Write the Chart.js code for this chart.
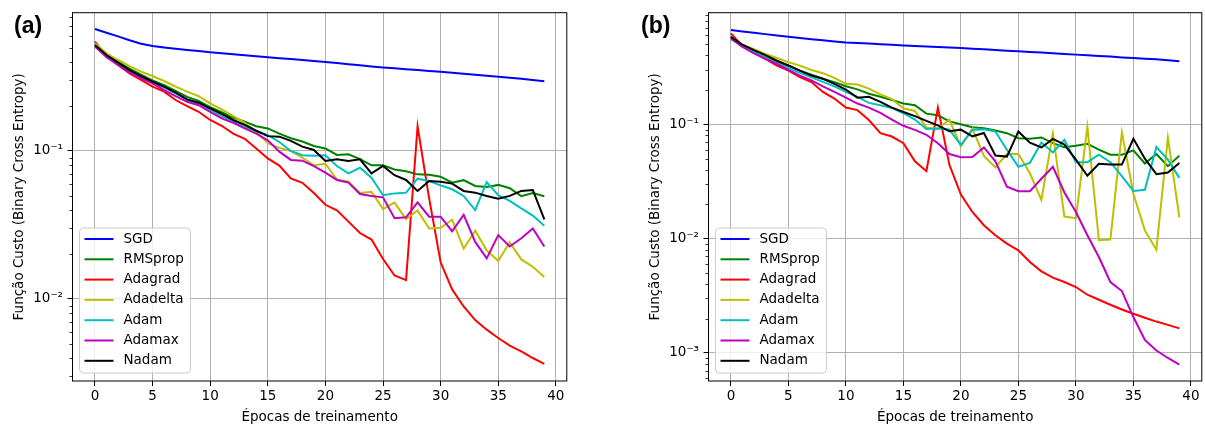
<!DOCTYPE html>
<html>
<head>
<meta charset="utf-8">
<script src="https://cdn.jsdelivr.net/npm/chart.js@4.4.1/dist/chart.umd.min.js"></script>
<style>
  html, body { margin: 0; padding: 0; background: #fff; }
  body { width: 1205px; height: 427px; position: relative; overflow: hidden; }
  canvas { position: absolute; top: 0; }
  #chart-a { left: 0; }
  #chart-b { left: 636px; }
</style>
</head>
<body>
<canvas id="chart-a" width="600" height="427"></canvas>
<canvas id="chart-b" width="569" height="427"></canvas>
<script>
const epochs = [0, 1, 2, 3, 4, 5, 6, 7, 8, 9, 10, 11, 12, 13, 14, 15, 16, 17, 18, 19,
  20, 21, 22, 23, 24, 25, 26, 27, 28, 29, 30, 31, 32, 33, 34, 35, 36, 37, 38, 39];
const xTicks = [0, 5, 10, 15, 20, 25, 30, 35, 40];

const optimizers = ['SGD', 'RMSprop', 'Adagrad', 'Adadelta', 'Adam', 'Adamax', 'Nadam'];
const lineColors = ['#0000ff', '#008000', '#ff0000', '#bfbf00', '#00bfbf', '#bf00bf', '#000000'];

// (a) loss per epoch
const sgdA = [0.667, 0.63, 0.595, 0.56, 0.53, 0.512, 0.50, 0.49, 0.482, 0.474, 0.465, 0.458, 0.451, 0.444, 0.437, 0.43, 0.424, 0.418, 0.412, 0.406,
  0.40, 0.393, 0.386, 0.380, 0.373, 0.367, 0.362, 0.357, 0.352, 0.347, 0.343, 0.338, 0.333, 0.328, 0.323, 0.318, 0.313, 0.308, 0.302, 0.296];
const rmspropA = [0.52, 0.445, 0.40, 0.36, 0.328, 0.30, 0.278, 0.255, 0.232, 0.218, 0.198, 0.183, 0.168, 0.158, 0.147, 0.142, 0.131, 0.122, 0.116, 0.108,
  0.104, 0.094, 0.095, 0.088, 0.080, 0.080, 0.075, 0.073, 0.0695, 0.069, 0.067, 0.061, 0.0635, 0.058, 0.057, 0.059, 0.056, 0.0495, 0.052, 0.0495];
const adagradA = [0.548, 0.438, 0.381, 0.335, 0.302, 0.272, 0.252, 0.221, 0.201, 0.184, 0.162, 0.148, 0.131, 0.121, 0.104, 0.089, 0.0796, 0.0653, 0.061, 0.052,
  0.0433, 0.0397, 0.0333, 0.0279, 0.0252, 0.0186, 0.0144, 0.0134, 0.147, 0.048, 0.0177, 0.0116, 0.0089, 0.0072, 0.0062, 0.00545, 0.00484, 0.00443, 0.00399, 0.00364];
const adadeltaA = [0.534, 0.457, 0.412, 0.375, 0.344, 0.321, 0.297, 0.272, 0.252, 0.235, 0.210, 0.191, 0.172, 0.155, 0.135, 0.113, 0.105, 0.100, 0.090, 0.080,
  0.082, 0.064, 0.0622, 0.052, 0.053, 0.0405, 0.0448, 0.0347, 0.0396, 0.0299, 0.0303, 0.0343, 0.0219, 0.0289, 0.0213, 0.0181, 0.0241, 0.0185, 0.0165, 0.0141];
const adamA = [0.507, 0.44, 0.39, 0.35, 0.318, 0.29, 0.268, 0.245, 0.222, 0.208, 0.19, 0.172, 0.158, 0.145, 0.137, 0.128, 0.115, 0.100, 0.0935, 0.093,
  0.0935, 0.0792, 0.0706, 0.077, 0.066, 0.0502, 0.0517, 0.0523, 0.065, 0.0627, 0.0586, 0.0551, 0.0497, 0.0399, 0.0617, 0.0502, 0.046, 0.041, 0.0366, 0.0313];
const adamaxA = [0.51, 0.43, 0.381, 0.34, 0.31, 0.286, 0.258, 0.235, 0.215, 0.204, 0.184, 0.166, 0.155, 0.142, 0.131, 0.118, 0.099, 0.087, 0.086, 0.079,
  0.0714, 0.0637, 0.0611, 0.0512, 0.0496, 0.0486, 0.0351, 0.0356, 0.045, 0.036, 0.036, 0.0287, 0.037, 0.0243, 0.0188, 0.027, 0.0226, 0.0257, 0.0299, 0.0226];
const nadamA = [0.52, 0.445, 0.395, 0.352, 0.321, 0.294, 0.272, 0.248, 0.223, 0.212, 0.194, 0.178, 0.162, 0.150, 0.137, 0.126, 0.125, 0.117, 0.107, 0.1016,
  0.0855, 0.0878, 0.0855, 0.0878, 0.0706, 0.0792, 0.0686, 0.0637, 0.0537, 0.0627, 0.062, 0.0602, 0.0537, 0.0523, 0.0497, 0.0476, 0.0497, 0.0537, 0.0545, 0.0345];

// (b) loss per epoch
const sgdB = [0.668, 0.65, 0.632, 0.615, 0.598, 0.582, 0.568, 0.555, 0.543, 0.531, 0.52, 0.514, 0.508, 0.502, 0.496, 0.49, 0.485, 0.48, 0.475, 0.47,
  0.465, 0.459, 0.453, 0.447, 0.441, 0.435, 0.429, 0.424, 0.418, 0.413, 0.407, 0.401, 0.396, 0.391, 0.385, 0.38, 0.375, 0.37, 0.363, 0.356];
const rmspropB = [0.574, 0.484, 0.434, 0.391, 0.356, 0.326, 0.295, 0.271, 0.25, 0.234, 0.215, 0.202, 0.185, 0.174, 0.163, 0.152, 0.147, 0.124, 0.12, 0.106,
  0.1, 0.0942, 0.0923, 0.0881, 0.0836, 0.0756, 0.0746, 0.0767, 0.0685, 0.0629, 0.0649, 0.0676, 0.06, 0.0542, 0.0542, 0.0591, 0.0454, 0.055, 0.043, 0.0532];
const adagradB = [0.625, 0.486, 0.426, 0.373, 0.326, 0.295, 0.259, 0.234, 0.192, 0.168, 0.140, 0.133, 0.109, 0.0836, 0.0782, 0.0684, 0.0475, 0.0389, 0.140, 0.0442,
  0.0243, 0.0171, 0.0131, 0.0107, 0.00904, 0.0079, 0.00625, 0.00517, 0.00455, 0.00417, 0.00377, 0.00323, 0.00292, 0.00264, 0.0024, 0.0022, 0.00203, 0.00188, 0.00176, 0.00164];
const adadeltaB = [0.58, 0.496, 0.455, 0.412, 0.38, 0.349, 0.326, 0.299, 0.28, 0.255, 0.226, 0.223, 0.205, 0.183, 0.166, 0.138, 0.131, 0.0935, 0.0916, 0.11,
  0.0641, 0.0916, 0.0528, 0.042, 0.055, 0.055, 0.0373, 0.0218, 0.0832, 0.0156, 0.0151, 0.0948, 0.0097, 0.0098, 0.085, 0.0247, 0.0118, 0.008, 0.0764, 0.0153];
const adamB = [0.556, 0.48, 0.43, 0.385, 0.345, 0.31, 0.282, 0.257, 0.235, 0.215, 0.192, 0.174, 0.154, 0.147, 0.139, 0.125, 0.11, 0.091, 0.092, 0.09,
  0.0662, 0.0893, 0.0905, 0.0864, 0.06, 0.0425, 0.046, 0.0694, 0.0568, 0.0732, 0.0466, 0.0466, 0.0542, 0.0466, 0.0352, 0.0261, 0.0267, 0.0633, 0.0491, 0.034];
const adamaxB = [0.566, 0.476, 0.417, 0.373, 0.337, 0.299, 0.267, 0.242, 0.215, 0.192, 0.171, 0.152, 0.140, 0.126, 0.110, 0.097, 0.0894, 0.081, 0.0684, 0.055,
  0.0515, 0.0518, 0.0628, 0.0475, 0.0285, 0.026, 0.026, 0.0334, 0.0425, 0.0253, 0.0171, 0.0107, 0.0069, 0.00417, 0.00348, 0.00206, 0.0013, 0.00105, 0.000903, 0.000791];
const nadamB = [0.582, 0.497, 0.446, 0.403, 0.36, 0.327, 0.295, 0.267, 0.25, 0.226, 0.201, 0.171, 0.174, 0.157, 0.140, 0.128, 0.118, 0.107, 0.098, 0.0868,
  0.0898, 0.0785, 0.0839, 0.0534, 0.0522, 0.0866, 0.069, 0.0627, 0.0745, 0.0665, 0.049, 0.0355, 0.0452, 0.0444, 0.0444, 0.0747, 0.050, 0.0366, 0.0379, 0.0459];

const yTicksA = [0.01, 0.1];
const yTickLabelsA = ['10⁻²', '10⁻¹'];
const yTicksB = [0.001, 0.01, 0.1];
const yTickLabelsB = ['10⁻³', '10⁻²', '10⁻¹'];

const FONT = { family: 'DejaVu Sans', size: 13.5 };

// spines, minor log ticks, legend box and the (a)/(b) tag
const panelDecor = {
  id: 'panelDecor',
  afterDatasetsDraw(chart) {
    const { ctx, chartArea: a, scales: { y } } = chart;
    ctx.save();
    ctx.strokeStyle = '#000';
    ctx.lineWidth = 0.8;
    for (let d = -4; d <= 0; d++) {
      for (let k = 2; k <= 9; k++) {
        const v = k * Math.pow(10, d);
        if (v < y.min || v > y.max) continue;
        const py = Math.round(y.getPixelForValue(v)) + 0.5;
        ctx.beginPath();
        ctx.moveTo(a.left - 3, py);
        ctx.lineTo(a.left, py);
        ctx.stroke();
      }
    }
    ctx.lineWidth = 1;
    ctx.strokeRect(a.left, a.top, a.right - a.left, a.bottom - a.top);
    ctx.restore();
  },
  afterDraw(chart, args, opts) {
    const { ctx, chartArea: a } = chart;
    const boxW = 111, boxH = 145;
    const bx = a.left + 7, by = a.bottom - 8 - boxH;
    ctx.save();
    ctx.beginPath();
    ctx.roundRect(bx, by, boxW, boxH, 4);
    ctx.fillStyle = 'rgba(255,255,255,0.8)';
    ctx.fill();
    ctx.strokeStyle = '#cccccc';
    ctx.lineWidth = 1;
    ctx.stroke();

    ctx.font = `${FONT.size}px "${FONT.family}"`;
    ctx.textBaseline = 'middle';
    ctx.textAlign = 'left';
    chart.data.datasets.forEach((ds, i) => {
      const cy = by + 11 + i * 20.3;
      ctx.strokeStyle = ds.borderColor;
      ctx.lineWidth = 2;
      ctx.beginPath();
      ctx.moveTo(bx + 5, cy);
      ctx.lineTo(bx + 34, cy);
      ctx.stroke();
      ctx.fillStyle = '#000';
      ctx.fillText(ds.label, bx + 44, cy);
    });

    ctx.font = 'bold 23px "Liberation Sans"';
    ctx.textBaseline = 'alphabetic';
    ctx.fillStyle = '#000';
    ctx.fillText(opts.tag, opts.tagX, 32.7);
    ctx.restore();
  }
};

function makeChart(canvasId, tag, tagX, series, yMin, yMax, yTicks, yTickLabels, padRight) {
  const datasets = series.map((values, i) => ({
    label: optimizers[i],
    data: values.map((v, j) => ({ x: epochs[j], y: v })),
    borderColor: lineColors[i],
    backgroundColor: lineColors[i],
    borderWidth: 2,
    pointRadius: 0,
    tension: 0,
    fill: false,
    order: series.length - i
  }));

  return new Chart(document.getElementById(canvasId), {
    type: 'line',
    data: { datasets },
    plugins: [panelDecor],
    options: {
      responsive: false,
      animation: false,
      devicePixelRatio: 1,
      layout: { padding: { top: 12.7, right: padRight, bottom: 0, left: 0 } },
      plugins: {
        legend: { display: false },
        tooltip: { enabled: false },
        panelDecor: { tag, tagX }
      },
      scales: {
        x: {
          type: 'linear',
          min: -1.95,
          max: 40.95,
          afterBuildTicks: (s) => { s.ticks = xTicks.map(v => ({ value: v })); },
          afterFit: (s) => { s.height = 46; },
          grid: { color: '#b0b0b0', lineWidth: 1, tickColor: '#000', tickLength: 5 },
          border: { display: false },
          ticks: { font: FONT, color: '#000', padding: 2, autoSkip: false, maxRotation: 0 },
          title: {
            display: true, text: 'Épocas de treinamento', font: FONT, color: '#000',
            padding: { top: 0, bottom: 1 }
          }
        },
        y: {
          type: 'logarithmic',
          min: yMin,
          max: yMax,
          afterBuildTicks: (s) => { s.ticks = yTicks.map(v => ({ value: v, major: true })); },
          afterFit: (s) => { s.width = 72.5; },
          grid: { color: '#b0b0b0', lineWidth: 1, tickColor: '#000', tickLength: 5 },
          border: { display: false },
          ticks: {
            font: FONT, color: '#000', padding: 4.5, autoSkip: false,
            callback: (v) => {
              const i = yTicks.findIndex(t => Math.abs(t - v) / t < 1e-6);
              return i >= 0 ? yTickLabels[i] : '';
            }
          },
          title: {
            display: true, text: 'Função Custo (Binary Cross Entropy)', font: FONT, color: '#000',
            padding: { top: 11, bottom: 0 }
          }
        }
      }
    }
  });
}

makeChart('chart-a', '(a)', 14, [sgdA, rmspropA, adagradA, adadeltaA, adamA, adamaxA, nadamA],
  0.00279, 0.86, yTicksA, yTickLabelsA, 33.2);
makeChart('chart-b', '(b)', 5, [sgdB, rmspropB, adagradB, adadeltaB, adamB, adamaxB, nadamB],
  0.000568, 0.947, yTicksB, yTickLabelsB, 3.2);
</script>
</body>
</html>
